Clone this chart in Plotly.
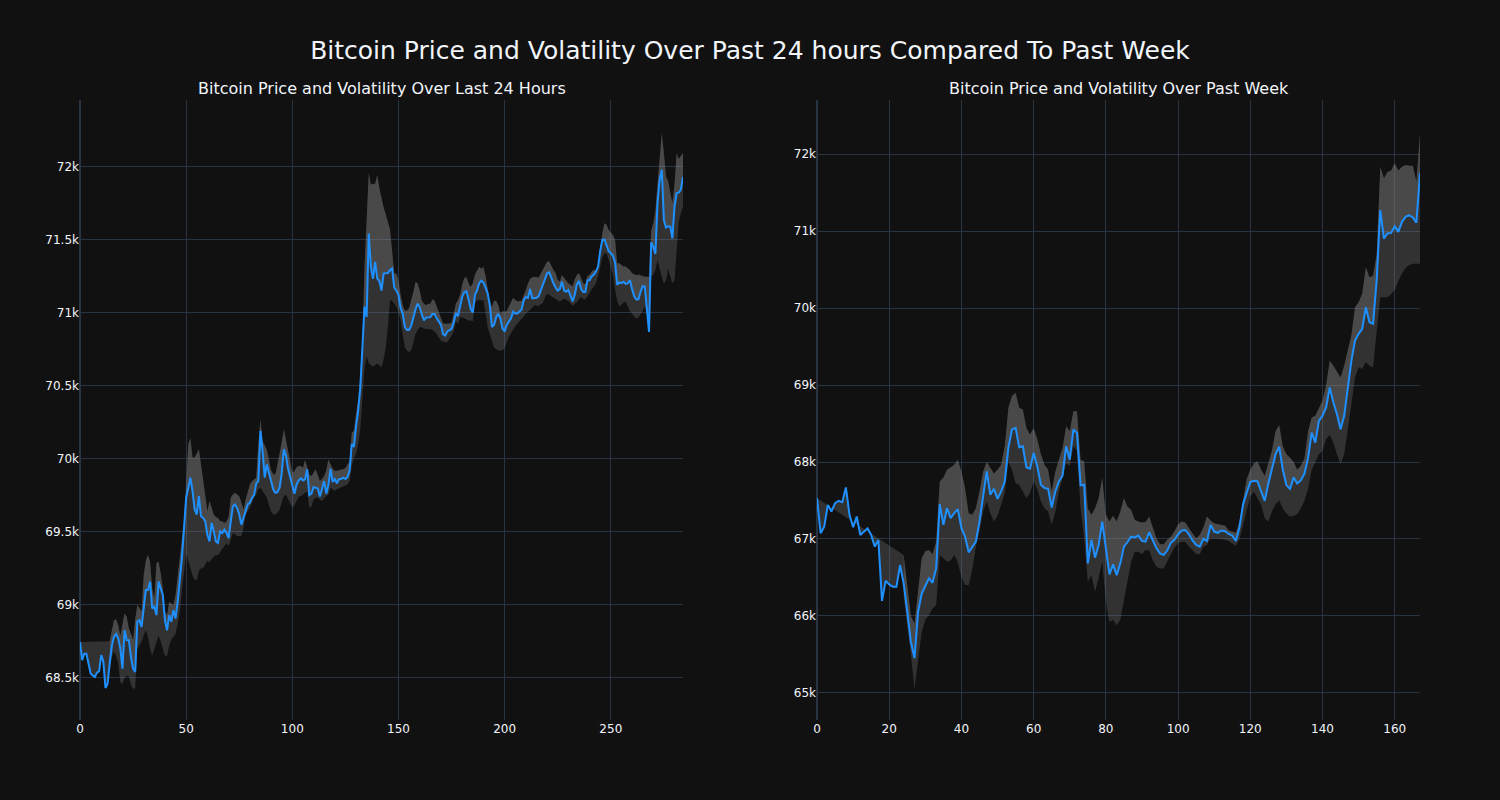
import plotly.graph_objects as go
from plotly.subplots import make_subplots

# ---------------- data: last 24 hours (5-minute steps) ----------------
day_price = [
    68745, 68620, 68665, 68665, 68600, 68530, 68516, 68505, 68535, 68545,
    68655, 68610, 68430, 68460, 68600, 68720, 68780, 68800, 68768, 68700,
    68562, 68825, 68757, 68757, 68640, 68562, 68540, 68883, 68894, 68848,
    68975, 69100, 69100, 69158, 68975, 68986, 68929, 69158, 69112, 69066,
    68894, 68825, 68929, 68883, 68963, 68906, 69020, 69158, 69319, 69525,
    69732, 69800, 69869, 69778, 69651, 69617, 69743, 69605, 69594, 69571,
    69479, 69433, 69560, 69502, 69433, 69422, 69502, 69491, 69514, 69491,
    69456, 69571, 69674, 69686, 69660, 69617, 69548, 69594, 69650, 69686,
    69697, 69730, 69750, 69830, 69846, 70190, 70050, 69870, 69960, 69900,
    69850, 69790, 69766, 69770, 69800, 69900, 70064, 70020, 69930, 69875,
    69820, 69760, 69823, 69850, 69865, 69850, 69858, 69927, 69750, 69760,
    69805, 69800, 69795, 69740, 69790, 69846, 69760, 69820, 69930, 69840,
    69860, 69830, 69860, 69860, 69869, 69860, 69875, 69920, 70100, 70080,
    70220, 70328, 70480, 70750, 71040, 70970, 71540, 71310, 71230, 71346,
    71232, 71215, 71150, 71266, 71266, 71270, 71290, 71300, 71170, 71151,
    71120, 71030, 70991, 70900, 70880, 70880, 70910, 70970, 71020, 71060,
    71037, 70985, 70945, 70965, 70968, 70968, 70990, 70990, 70960, 70940,
    70915, 70850, 70842, 70870, 70880, 70887, 70930, 70995, 70975, 71050,
    71106, 71140, 71145, 71090, 71025, 71000, 71120, 71150, 71200, 71218,
    71205, 71170, 71130, 71050, 70900, 70915, 70968, 70990, 70960, 70890,
    70870, 70915, 70936, 70960, 71005, 70993, 70993, 71005, 71020, 71085,
    71105, 71100, 71160, 71096, 71096, 71100, 71110, 71150, 71180, 71220,
    71268, 71275, 71234, 71200, 71170, 71150, 71160, 71211, 71150, 71142,
    71154, 71110, 71075, 71120, 71190, 71215, 71160, 71140, 71140, 71220,
    71220, 71246, 71257, 71280, 71314, 71420, 71495, 71500, 71465, 71420,
    71405, 71390, 71340, 71190, 71205, 71200, 71210, 71195, 71200, 71220,
    71160, 71110, 71089, 71090, 71140, 71180, 71177, 71040, 70867, 71480,
    71450, 71400, 71748, 71908, 71977, 71633, 71580, 71590, 71587, 71507,
    71725, 71817, 71820, 71840, 71927,
]
day_band_start = 14
day_upper = [
    68750, 68837, 68894, 68900, 68860, 68790,
    68880, 68940, 68917, 68837, 68800, 68760, 68900, 68998, 68980, 68952,
    69204, 69300, 69342, 69296, 69112, 69044, 69284, 69296, 69216, 69112,
    68952, 68929, 69021, 69010, 68998, 69067, 69181, 69300, 69450, 69571,
    69800, 70100, 70140, 70007, 70007, 70041, 70064, 69961, 69846, 69732,
    69640, 69709, 69663, 69617, 69600, 69594, 69571, 69571, 69560, 69570,
    69600, 69732, 69755, 69766, 69755, 69743, 69700, 69651, 69720, 69777,
    69823, 69845, 69860, 69869, 70100, 70271, 70120, 70090, 70060, 69990,
    69920, 69892, 69892, 69960, 70030, 70110, 70202, 70133, 70041, 69984,
    69904, 69915, 69940, 69950, 69950, 69938, 69990, 69940, 69890, 69881,
    69900, 69927, 69890, 69846, 69860, 69881, 69920, 69995, 69960, 69930,
    69915, 69915, 69920, 69925, 69927, 69935, 69960, 69984, 70179, 70190,
    70305, 70400, 70560, 70800, 71312, 71700, 71954, 71874, 71880, 71880,
    71940, 71850, 71780, 71720, 71670, 71620, 71570, 71420, 71266, 71266,
    71220, 71120, 71050, 71014, 71014, 71030, 71080, 71140, 71209, 71200,
    71150, 71080, 71060, 71050, 71060, 71060, 71090, 71080, 71040, 71000,
    70960, 70925, 70922, 70922, 70925, 70930, 70990, 71060, 71083, 71120,
    71190, 71235, 71243, 71200, 71174, 71200, 71260, 71289, 71312, 71300,
    71312, 71250, 71150, 71080, 71037, 71080, 71080, 71050, 70991, 71010,
    71005, 71010, 71040, 71070, 71100, 71085, 71075, 71078, 71080, 71120,
    71153, 71200, 71230, 71240, 71245, 71243, 71238, 71265, 71291, 71315,
    71348, 71348, 71314, 71290, 71268, 71222, 71212, 71257, 71235, 71215,
    71200, 71190, 71177, 71228, 71257, 71268, 71235, 71200, 71193, 71250,
    71257, 71280, 71291, 71291, 71330, 71450, 71543, 71611, 71600, 71565,
    71547, 71530, 71497, 71336, 71336, 71325, 71314, 71314, 71300, 71290,
    71268, 71260, 71255, 71260, 71257, 71250, 71245, 71245, 71245, 71560,
    71611, 71700, 71863, 72046, 72229, 72092, 71931, 71900, 71817, 71748,
    71880, 72092, 72050, 72069, 72092,
]
day_lower = [
    68560, 68640, 68680, 68650, 68600, 68470,
    68455, 68500, 68516, 68510, 68450, 68424, 68430, 68700, 68720, 68745,
    68791, 68826, 68780, 68700, 68650, 68700, 68750, 68790, 68750, 68700,
    68650, 68650, 68720, 68760, 68780, 68800, 68870, 68950, 69100, 69250,
    69350, 69300, 69250, 69200, 69170, 69170, 69230, 69250, 69250, 69280,
    69300, 69290, 69310, 69330, 69340, 69340, 69360, 69380, 69400, 69420,
    69400, 69440, 69490, 69480, 69470, 69468, 69470, 69525, 69617, 69640,
    69663, 69700, 69740, 69755, 69790, 69800, 69777, 69750, 69732, 69680,
    69640, 69617, 69617, 69630, 69650, 69700, 69743, 69755, 69720, 69686,
    69663, 69680, 69709, 69740, 69743, 69755, 69770, 69777, 69663, 69670,
    69720, 69732, 69732, 69720, 69709, 69730, 69745, 69755, 69800, 69790,
    69780, 69790, 69795, 69800, 69805, 69815, 69823, 69850, 69950, 70007,
    70030, 70100, 70200, 70400, 70624, 70700, 70650, 70640, 70630, 70640,
    70650, 70640, 70624, 70680, 70761, 70899, 71083, 71080, 71060, 71040,
    71000, 70950, 70850, 70760, 70740, 70730, 70740, 70800, 70853, 70880,
    70899, 70899, 70890, 70887, 70887, 70887, 70880, 70870, 70853, 70830,
    70807, 70800, 70796, 70796, 70820, 70840, 70870, 70940, 70920, 70968,
    70968, 70960, 70950, 70945, 70945, 70940, 71060, 71083, 71083, 71083,
    71083, 71000, 70900, 70853, 70800, 70761, 70750, 70739, 70739, 70742,
    70755, 70795, 70833, 70860, 70886, 70905, 70925, 70940, 70952, 70972,
    70993, 71005, 71016, 71033, 71050, 71047, 71044, 71055, 71066, 71100,
    71130, 71120, 71110, 71100, 71092, 71082, 71073, 71085, 71096, 71085,
    71080, 71063, 71046, 71060, 71070, 71090, 71105, 71090, 71090, 71110,
    71140, 71160, 71176, 71200, 71250, 71314, 71380, 71405, 71405, 71360,
    71314, 71260, 71160, 71080, 71039, 71055, 71068, 71073, 71040, 71010,
    70993, 70970, 70959, 70965, 70990, 71010, 71039, 71000, 70844, 71245,
    71260, 71290, 71359, 71290, 71245, 71199, 71220, 71300, 71245, 71200,
    71222, 71400, 71620, 71680, 71725,
]

# ---------------- data: past week (hourly steps) ----------------
week_price = [
    67530, 67074, 67161, 67443, 67357, 67465, 67496, 67478, 67670, 67313,
    67152, 67291, 67052, 67096, 67139, 67052, 66900, 66987, 66195, 66456,
    66409, 66378, 66378, 66661, 66422, 66052, 65661, 65452, 66052, 66291,
    66400, 66487, 66430, 66617, 67452, 67183, 67400, 67270, 67335, 67387,
    67139, 67030, 66826, 66900, 66965, 67226, 67574, 67878, 67574, 67652,
    67522, 67617, 67748, 68183, 68422, 68443, 68191, 68204, 67930, 67913,
    68117, 67943, 67704, 67661, 67652, 67409, 67617, 67748, 67822, 68204,
    68030, 68422, 68378, 67696, 67704, 66683, 66987, 66757, 66922, 67226,
    66878, 66539, 66670, 66530, 66683, 66900, 66960, 67030, 67020, 67043,
    66974, 66965, 67087, 66987, 66878, 66813, 66791, 66850, 66950, 66990,
    67060, 67110, 67117, 67060, 66980, 66922, 66900, 67000, 66974, 67183,
    67096, 67080, 67110, 67100, 67065, 67045, 66974, 67150, 67450, 67600,
    67740, 67757, 67748, 67617, 67496, 67720, 67900, 68100, 68200, 67900,
    67700, 67650, 67800, 67720, 67760, 67850, 68050, 68383, 68252, 68535,
    68600, 68709, 68970, 68774, 68622, 68426, 68600, 68970, 69317, 69578,
    69665, 69730, 70013, 69817, 69796, 70361, 71274, 70904, 70970, 70978,
    71065, 70991, 71122, 71187, 71209, 71178, 71109, 71752,
]
week_band_start = 24
week_upper = [
    66790, 66350, 66000, 65900, 66350, 66748,
    66840, 66857, 66800, 66965, 67748, 67800, 67900, 67930, 67965, 68030,
    67878, 67661, 67335, 67313, 67400, 67617, 67878, 68000, 67922, 67850,
    67900, 67965, 68204, 68704, 68857, 68900, 68704, 68683, 68443, 68357,
    68443, 68300, 68100, 67965, 67900, 67617, 67878, 68030, 68183, 68465,
    68400, 68661, 68661, 68030, 68009, 67400, 67313, 67400, 67530, 67791,
    67313, 67226, 67300, 67226, 67357, 67530, 67420, 67378, 67248, 67226,
    67215, 67220, 67291, 67150, 67009, 66930, 66930, 66990, 67030, 67100,
    67190, 67226, 67215, 67139, 67080, 67009, 67050, 67150, 67291, 67240,
    67204, 67190, 67180, 67174, 67110, 67096, 67080, 67226, 67530, 67780,
    67900, 67980, 68009, 67900, 67820, 67990, 68150, 68400, 68480, 68200,
    68100, 68056, 68000, 67900, 67950, 68050, 68400, 68578, 68600, 68700,
    68800, 69000, 69317, 69250, 69165, 69100, 69250, 69450, 69650, 70013,
    70078, 70187, 70535, 70400, 70420, 70700, 71839, 71687, 71770, 71790,
    71883, 71790, 71839, 71860, 71850, 71850, 71643, 72274,
]
week_lower = [
    66250, 65900, 65500, 65052, 65450, 65791,
    65950, 66009, 66100, 66139, 66791, 66750, 66704, 66720, 66790, 66700,
    66500, 66400, 66400, 66600, 66900, 67100, 67357, 67487, 67335, 67226,
    67300, 67443, 67600, 68009, 67900, 67720, 67704, 67617, 67530, 67600,
    67748, 67650, 67487, 67400, 67357, 67183, 67350, 67620, 67791, 67980,
    67950, 68204, 68140, 67400, 67000, 66443, 66530, 66313, 66500, 66704,
    66183, 65922, 65950, 65878, 65950, 66200, 66500, 66704, 66835, 66835,
    66800, 66857, 66850, 66720, 66640, 66617, 66617, 66700, 66800, 66890,
    66943, 66965, 66960, 66900, 66857, 66800, 66800, 66900, 66920, 67010,
    67009, 67009, 67000, 66990, 66974, 66940, 66913, 67000, 67183, 67400,
    67552, 67617, 67530, 67443, 67270, 67226, 67357, 67450, 67500, 67400,
    67330, 67290, 67300, 67320, 67400, 67500, 67650, 67900, 68000, 68100,
    68150, 68300, 68350, 68250, 68100, 67970, 68100, 68400, 68750, 69100,
    69230, 69210, 69300, 69250, 69230, 69700, 70143, 70140, 70140, 70180,
    70240, 70350, 70450, 70520, 70560, 70576, 70576, 70576,
]

TITLE = "Bitcoin Price and Volatility Over Past 24 hours Compared To Past Week"
SUB_TITLES = ("Bitcoin Price and Volatility Over Last 24 Hours",
              "Bitcoin Price and Volatility Over Past Week")

LINE_COLOR = "#1E90FF"
FILL_COLOR = "rgba(128,128,128,0.3)"

fig = make_subplots(rows=1, cols=2, subplot_titles=SUB_TITLES,
                    horizontal_spacing=0.1)


def add_panel(col, price, upper, lower, start):
    x = list(range(len(price)))
    xb = list(range(start, start + len(upper)))
    # invisible base line for the first fill
    fig.add_trace(go.Scatter(x=x, y=price, mode="lines",
                             line=dict(width=0, color="rgba(0,0,0,0)"),
                             showlegend=False, hoverinfo="skip"),
                  row=1, col=col)
    fig.add_trace(go.Scatter(x=xb, y=upper, mode="lines",
                             line=dict(width=0, color="rgba(0,0,0,0)"),
                             fill="tonexty", fillcolor=FILL_COLOR,
                             showlegend=False, hoverinfo="skip"),
                  row=1, col=col)
    fig.add_trace(go.Scatter(x=xb, y=lower, mode="lines",
                             line=dict(width=0, color="rgba(0,0,0,0)"),
                             fill="tonexty", fillcolor=FILL_COLOR,
                             showlegend=False, hoverinfo="skip"),
                  row=1, col=col)
    fig.add_trace(go.Scatter(x=x, y=price, mode="lines",
                             line=dict(width=2, color=LINE_COLOR),
                             showlegend=False),
                  row=1, col=col)


add_panel(1, day_price, day_upper, day_lower, day_band_start)
add_panel(2, week_price, week_upper, week_lower, week_band_start)

fig.update_layout(
    template="plotly_dark",
    width=1500, height=800,
    font=dict(family="DejaVu Sans"),
    title=dict(text=TITLE, x=0.5, xanchor="center",
               yref="container", y=1 - 50 / 800, yanchor="middle",
               font=dict(size=25)),
    showlegend=False,
    margin=dict(l=80, r=80, t=100, b=80),
)
fig.update_annotations(font=dict(size=16, family="DejaVu Sans"))

fig.update_xaxes(range=[0, len(day_price) - 1], row=1, col=1)
fig.update_xaxes(range=[0, len(week_price) - 1], row=1, col=2)
fig.update_yaxes(range=[68211, 72454], row=1, col=1)
fig.update_yaxes(range=[64647, 72705], row=1, col=2)

fig.write_html("out.html")
